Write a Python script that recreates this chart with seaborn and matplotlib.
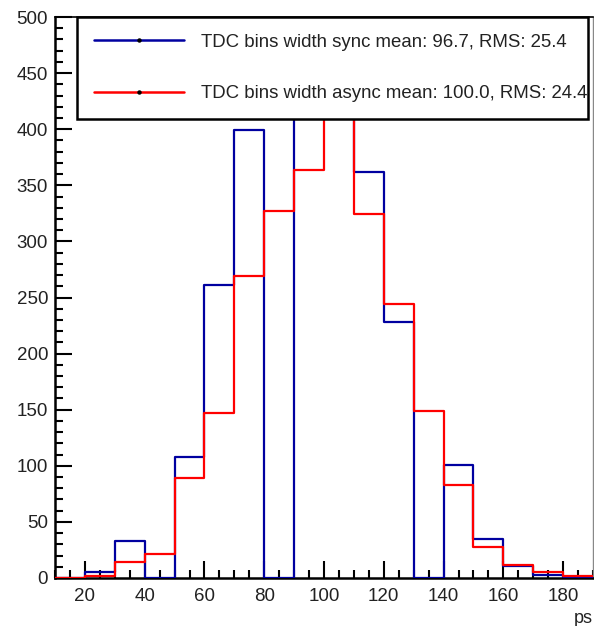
import matplotlib
matplotlib.use("Agg")
import matplotlib.pyplot as plt
import seaborn as sns
import numpy as np
from matplotlib.lines import Line2D
from matplotlib.ticker import MultipleLocator

# ---- data ----
bin_edges = [10, 20, 30, 40, 50, 60, 70, 80, 90, 100, 110, 120, 130, 140, 150, 160, 170, 180, 190]
bin_centers = [15, 25, 35, 45, 55, 65, 75, 85, 95, 105, 115, 125, 135, 145, 155, 165, 175, 185]
sync_counts = [0, 5, 33, 0, 108, 261, 399, 0, 515, 440, 362, 228, 0, 101, 35, 11, 3, 1]
async_counts = [0, 2, 14, 21, 89, 147, 269, 327, 364, 425, 324, 244, 149, 83, 28, 12, 5, 2]
sync_label = "TDC bins width sync mean: 96.7, RMS: 25.4"
async_label = "TDC bins width async mean: 100.0, RMS: 24.4"
x_ticks = [20, 40, 60, 80, 100, 120, 140, 160, 180]
y_ticks = [0, 50, 100, 150, 200, 250, 300, 350, 400, 450, 500]
x_label = "ps"

sync_color = "#0000a0"
async_color = "#ff0000"

sns.set_style("ticks")
plt.rcParams['font.family'] = ['Liberation Sans', 'DejaVu Sans']

W, H = 594, 626
fig = plt.figure(figsize=(W / 100, H / 100), dpi=100)
ax = fig.add_axes([55 / W, 48 / H, 538 / W, 561 / H])

sns.histplot(x=bin_centers, weights=sync_counts, bins=bin_edges, element="step",
             fill=False, color=sync_color, linewidth=1.6, ax=ax, zorder=3)
sns.histplot(x=bin_centers, weights=async_counts, bins=bin_edges, element="step",
             fill=False, color=async_color, linewidth=1.6, ax=ax, zorder=4)

ax.set_xlim(10, 190)
ax.set_ylim(0, 500)
ax.set_xticks(x_ticks)
ax.set_yticks(y_ticks)
ax.xaxis.set_minor_locator(MultipleLocator(5))
ax.yaxis.set_minor_locator(MultipleLocator(10))
ax.tick_params(which="both", direction="in", width=1.5, colors="black",
               labelsize=13.5, labelcolor="#222222")
ax.tick_params(which="major", length=12)
ax.tick_params(which="minor", length=6)
ax.tick_params(axis="x", pad=7)
ax.tick_params(axis="y", pad=5)

ax.set_ylabel("")
ax.set_xlabel(x_label, loc="right", fontsize=13, color="#222222", labelpad=4)

for side in ["left", "bottom"]:
    ax.spines[side].set_linewidth(1.8)
    ax.spines[side].set_color("black")
    ax.spines[side].set_visible(True)
ax.spines["top"].set_visible(True)
ax.spines["top"].set_linewidth(1.2)
ax.spines["top"].set_color("black")
ax.spines["right"].set_visible(True)
ax.spines["right"].set_linewidth(1.0)
ax.spines["right"].set_color("#888888")

handles = [
    Line2D([0], [0], color=sync_color, lw=1.8, marker="o", markersize=2.2,
           markerfacecolor="black", markeredgecolor="black"),
    Line2D([0], [0], color=async_color, lw=1.8, marker="o", markersize=2.2,
           markerfacecolor="black", markeredgecolor="black"),
]
x0, x1 = 77 / W, 588 / W
y0, y1 = 1 - 122 / H, 1 - 17 / H
leg = fig.legend(handles, [sync_label, async_label], loc="upper left",
                 bbox_to_anchor=(x0, y0, x1 - x0, y1 - y0), mode="expand",
                 borderaxespad=0, fontsize=13.4, handlelength=4.85, handletextpad=0.92,
                 labelspacing=1.85, borderpad=0.9, numpoints=1,
                 frameon=True, fancybox=False, framealpha=1, edgecolor="black")
leg.get_frame().set_linewidth(1.8)
for t in leg.get_texts():
    t.set_color("#222222")

fig.savefig("out.png", dpi=100)
